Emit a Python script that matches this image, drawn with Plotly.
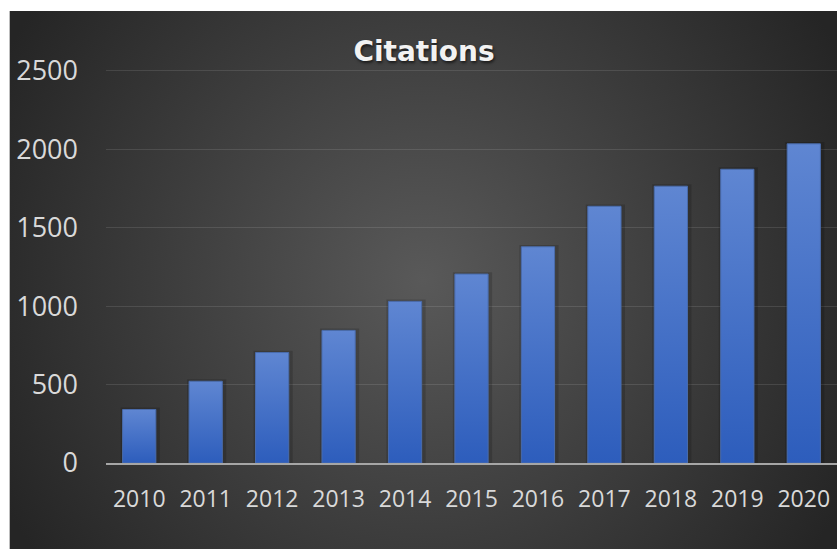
import base64
import plotly.graph_objects as go

# ---- data ----
years = [2010, 2011, 2012, 2013, 2014, 2015, 2016, 2017, 2018, 2019, 2020]
citations = [341, 521, 704, 845, 1030, 1204, 1378, 1636, 1764, 1872, 2034]
y_ticks = [0, 500, 1000, 1500, 2000, 2500]
title_text = "Citations"

# ---- geometry / style ----
W, H = 837, 549
Y_MAX = 2530
ZERO_PX, TOP_TICK_PX = 463, 71
ML, MR, MB = 106, 0, H - ZERO_PX
MT = round(ZERO_PX - (ZERO_PX - TOP_TICK_PX) * Y_MAX / 2500)
PW, PH = W - ML - MR, H - MT - MB
BAR_HALF = 0.25
TXT = "#d9d9d9"


def px_x(p):
    return (p - ML) / PW


def px_y(p):
    return (H - MB - p) / PH


fig = go.Figure()
# soft shadow behind bars
for yr, v in zip(years, citations):
    fig.add_trace(go.Scatter(
        x=[yr - BAR_HALF - 0.03, yr + BAR_HALF + 0.06, yr + BAR_HALF + 0.06,
           yr - BAR_HALF - 0.03, yr - BAR_HALF - 0.03],
        y=[0, 0, v + 12, v + 12, 0],
        mode="lines", fill="toself", line=dict(width=0),
        fillcolor="rgba(0,0,0,0.16)", hoverinfo="skip", showlegend=False,
    ))
for yr, v in zip(years, citations):
    fig.add_trace(go.Scatter(
        x=[yr - BAR_HALF, yr + BAR_HALF, yr + BAR_HALF, yr - BAR_HALF, yr - BAR_HALF],
        y=[0, 0, v, v, 0],
        mode="lines",
        fill="toself",
        line=dict(color="#4a6cac", width=1),
        fillgradient=dict(type="vertical",
                          colorscale=[[0, "#2d5dbc"], [1, "#5f86d2"]],
                          start=0, stop=v),
        hoverinfo="text",
        text=f"{yr}: {v}",
        showlegend=False,
    ))

svg = (
    '<svg xmlns="http://www.w3.org/2000/svg" width="827" height="538" '
    'viewBox="0 0 827 538" preserveAspectRatio="none"><defs>'
    '<radialGradient id="g" gradientUnits="userSpaceOnUse" cx="413" cy="269" r="475">'
    '<stop offset="0" stop-color="#595959"/><stop offset="1" stop-color="#252525"/>'
    '</radialGradient></defs><rect width="827" height="538" fill="url(#g)"/></svg>'
)
src = "data:image/svg+xml;base64," + base64.b64encode(svg.encode()).decode()

fig.update_layout(
    width=W, height=H,
    margin=dict(l=ML, r=MR, t=MT, b=MB, pad=0),
    paper_bgcolor="white",
    plot_bgcolor="rgba(0,0,0,0)",
    images=[dict(source=src, xref="paper", yref="paper",
                 x=px_x(10), y=px_y(11), sizex=827 / PW, sizey=538 / PH,
                 xanchor="left", yanchor="top", sizing="stretch", layer="below")],
    shapes=[dict(type="line", xref="paper", yref="paper",
                 x0=px_x(9.5), x1=px_x(9.5), y0=px_y(11), y1=px_y(549),
                 line=dict(color="#bdbdbd", width=1), layer="below")],
    title=dict(text=title_text, xref="container", yref="container",
               x=424 / W, y=1 - 51 / H, xanchor="center", yanchor="middle",
               font=dict(family="DejaVu Sans", size=28, color="#f2f2f2",
                         weight="bold", shadow="1px 2px 3px rgba(0,0,0,0.6)")),
    xaxis=dict(range=[years[0] - 0.5, years[-1] + 0.5], tickvals=years,
               ticktext=[str(y) for y in years], showgrid=False, zeroline=False,
               showline=True, linecolor="#a6a6a6", linewidth=2, ticks="",
               ticklabelstandoff=14,
               tickfont=dict(family="Open Sans", size=23, color=TXT)),
    yaxis=dict(range=[0, Y_MAX], tickvals=y_ticks, tickformat="d",
               showgrid=True, gridcolor="rgba(255,255,255,0.11)", gridwidth=1,
               zeroline=False, showline=False, ticks="",
               ticklabelstandoff=27,
               tickfont=dict(family="Open Sans", size=27, color=TXT)),
    showlegend=False,
)

fig.write_html("out.html")
